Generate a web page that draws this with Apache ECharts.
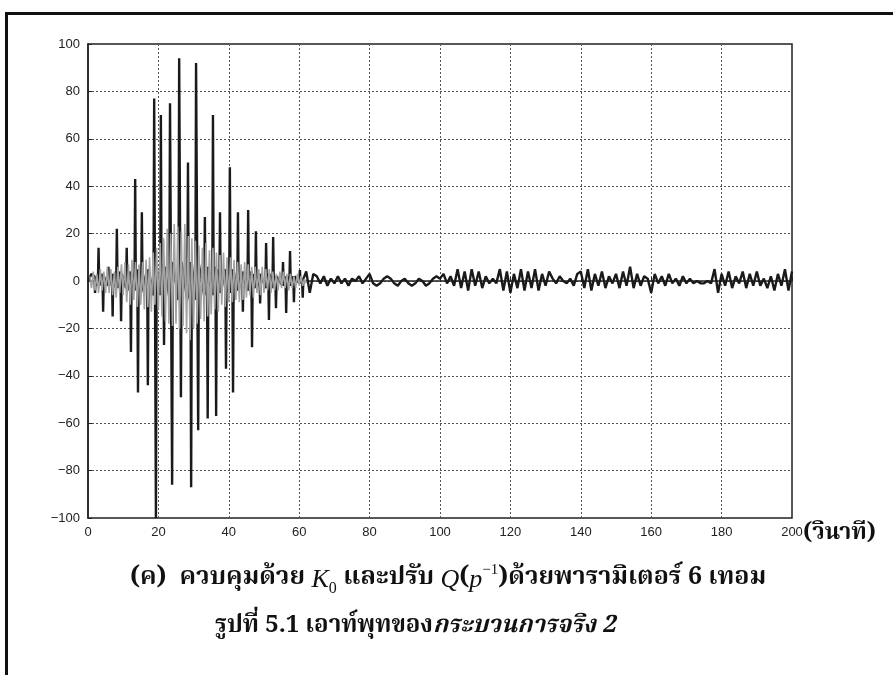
<!DOCTYPE html>
<html>
<head>
<meta charset="utf-8">
<title>Process output</title>
<script src="https://cdn.jsdelivr.net/npm/echarts@6/dist/echarts.min.js"></script>
<style>
  html, body { margin: 0; padding: 0; background: #fff; }
  #chart { width: 893px; height: 675px; }
</style>
</head>
<body>
<div id="chart"></div>
<script>
// output during the first 60 s: narrow spikes, [time, value]
var burstPoints = [
    [0, 0], [1, 3],
    [1.8, 2], [2, -5], [2.2, 2],
    [2.8, -2], [3, 14], [3.2, -2],
    [4.1, 3], [4.3, -13], [4.5, 2],
    [5.6, -2], [5.8, 6], [6, -2],
    [6.8, 3], [7, -15], [7.2, 3],
    [8, -3], [8.2, 22], [8.4, -3],
    [9.2, 4], [9.4, -17], [9.6, 3],
    [10.8, -3], [11, 14], [11.2, -4],
    [12, 4], [12.2, -30], [12.4, 4],
    [13.2, -4], [13.4, 43], [13.6, -4],
    [14, 5], [14.2, -47], [14.4, 5],
    [15.1, -5], [15.3, 29], [15.5, -4],
    [16.8, 5], [17, -44], [17.2, 5],
    [18.6, -6], [18.8, 77], [19.3, -100], [19.5, 6],
    [20.5, -6], [20.7, 70], [20.9, -6],
    [21.4, 7], [21.6, -27], [21.8, 6],
    [23.1, -7], [23.3, 75], [23.9, -86], [24.1, 8],
    [25.7, -8], [25.9, 94], [26.4, -49], [26.6, 8],
    [28.2, -8], [28.4, 50], [28.6, -7],
    [29.1, 8], [29.3, -87], [29.5, 7],
    [30.5, -8], [30.7, 92], [31.3, -63], [31.5, 7],
    [33, -6], [33.2, 27], [33.4, -6],
    [33.8, 6], [34, -58], [34.2, 6],
    [35.3, -6], [35.5, 70], [35.7, -6],
    [36.2, 6], [36.4, -57], [36.6, 5],
    [37.3, -5], [37.5, 29], [37.7, -5],
    [39, 5], [39.2, -37], [39.4, 5],
    [40.1, -5], [40.3, 48], [40.5, -5],
    [41, 5], [41.2, -47], [41.4, 4],
    [42.4, -4], [42.6, 29], [42.8, -4],
    [43.8, 4], [44, -13], [44.2, 4],
    [45.3, -4], [45.5, 30], [45.7, -4],
    [46.4, 4], [46.6, -28], [46.8, 3],
    [47.5, -3], [47.7, 21], [47.9, -3],
    [48.7, 3], [48.9, -9.5], [49.1, 3],
    [50.4, -3], [50.6, 16], [50.8, -3],
    [51.2, 3], [51.4, -16.5], [51.6, 3],
    [52.4, -3], [52.6, 18.6], [52.8, -2],
    [53.2, 2], [53.4, -11.5], [53.6, 2],
    [55.2, -2], [55.4, 8], [55.6, -2],
    [56.1, 2], [56.3, -13.5], [56.5, 2],
    [57.2, -2], [57.4, 12.6], [57.6, -2],
    [58.3, 2], [58.5, -9], [58.7, 2],
    [60, -1], [60.2, 4.6], [60.4, -1],
    [60.8, 1], [61, -7], [61.2, 1]
];

// settled part, one sample per second from t = 62 to 200
var tailStart = 62;
var tailValues = [4, -5, 3,
    2, -1, 2, -2, 1, -1, 2, -1, 1, -2, 1, 0, 2, -1, 1,
    3,
    -1, -2, -1, 1, 2, 1, -1, -2, 0, 1, -1, -2, -1, 1, 0, -2, -1, 1, 2, 1,
    3, -1, 2, -2,
    5, -3, 4, -4, 5, -2, 4, -3, 2, -1,
    1, -1,
    5, -4, 4, -5, 3, -3, 5, -4, 4, -3, 5, -4, 3, -2, 4,
    1, -1, 2, 0, -1, 1, -2, 3,
    4, -3, 5, -4, 3, -2, 4, -3, 2, -1, 3, -3, 4, -2,
    6,
    -3, 3, -2, 2, 1,
    -5,
    3, -1, 2, -2, 3, -1, 1, -2, 2, -1, 1,
    -1, 0, -1, -1, 0, -1,
    5, -5,
    3, -2, 4, -3, 2, -1, 4, -3, 3, -2, 4, -2, 1, -3, 2, -4, 3, -2, 5, -4,
    4];

// grey trace, every 0.5 s from t = 0.5
var greyStart = 0.5;
var greyStep = 0.5;
var greyValues = [2, -3, 4, -4, 3, -5, 5, -4, 4, -5,
    6, -5, 5, -6, 4, -7, 6, -5, 7, -6,
    8, -9, 7, -10, 9, -8, 8, -11, 7, -10,
    8, -12, 9, -11, 10, -13, 12, -10, 14, -12,
    16, -15, 18, -17, 22, -18, 20, -19, 24, -18,
    23, -20, 21, -19, 24, -22, 19, -25, 18, -20,
    17, -18, 15, -16, 14, -17, 16, -15, 13, -14,
    14, -12, 12, -13, 11, -10, 12, -11, 10, -9,
    10, -9, 9, -8, 8, -9, 7, -8, 8, -7,
    7, -6, 6, -7, 6, -5, 5, -6, 6, -5,
    5, -4, 5, -5, 4, -4, 3, -4, 4, -3,
    4, -3, 3, -4, 3, -3, 2, -3, 3, -2,
    2, -2, 1, -1];

var outputData = burstPoints.slice();
for (var j = 0; j < tailValues.length; j++) {
    outputData.push([tailStart + j, tailValues[j]]);
}
var greyData = [];
for (var k = 0; k < greyValues.length; k++) {
    greyData.push([greyStart + k * greyStep, greyValues[k]]);
}

var myChart = echarts.init(document.getElementById('chart'));

var labelFont = 'Liberation Sans, Arial, sans-serif';
var thaiFont = 'Noto Serif Thai, Noto Sans Thai, Loma, Garuda, Noto Sans, sans-serif';

function minusLabel(v) {
    return v < 0 ? '\u2212' + Math.abs(v) : String(v);
}

var option = {
    backgroundColor: '#ffffff',
    animation: false,
    grid: {
        left: 88,
        right: 101,
        top: 44,
        bottom: 157,
        show: true,
        borderColor: '#222',
        borderWidth: 1.5
    },
    xAxis: {
        type: 'value',
        min: 0,
        max: 200,
        interval: 20,
        axisLine: { lineStyle: { color: '#222', width: 1.5 } },
        axisTick: { inside: true, length: 4, lineStyle: { color: '#222' } },
        axisLabel: {
            margin: 8,
            fontFamily: labelFont,
            fontSize: 13,
            color: '#222'
        },
        splitLine: { show: true, lineStyle: { color: '#555', type: [2, 2], width: 1 } }
    },
    yAxis: {
        type: 'value',
        min: -100,
        max: 100,
        interval: 20,
        axisLine: { onZero: false, lineStyle: { color: '#222', width: 1.5 } },
        axisTick: { inside: true, length: 4, lineStyle: { color: '#222' } },
        axisLabel: {
            margin: 8,
            fontFamily: labelFont,
            fontSize: 13,
            color: '#222',
            formatter: minusLabel
        },
        splitLine: { show: true, lineStyle: { color: '#555', type: [2, 2], width: 1 } }
    },
    series: [
        {
            name: 'output',
            type: 'line',
            data: outputData,
            showSymbol: false,
            lineStyle: { color: '#1a1a1a', width: 2.4 },
            z: 2
        },
        {
            // drawn over the spikes, as in the scan
            name: 'grey',
            type: 'line',
            data: greyData,
            showSymbol: false,
            lineStyle: { color: '#a3a3a3', width: 1.6 },
            z: 3
        }
    ],
    graphic: [
        // scan frame
        { type: 'rect', shape: { x: 5, y: 12, width: 900, height: 3 }, style: { fill: '#111' } },
        { type: 'rect', shape: { x: 5, y: 12, width: 3, height: 680 }, style: { fill: '#111' } },
        {
            type: 'text',
            left: 803,
            top: 524,
            style: {
                text: '(วินาที)',
                fontFamily: thaiFont,
                fontWeight: 'bold',
                fontSize: 23,
                fill: '#111'
            }
        },
        {
            type: 'text',
            left: 130,
            top: 563,
            style: {
                text: '{n|(ค)  ควบคุมด้วย }{i|K}{sub|0}{n| และปรับ }{i|Q}{n|(}{i|p}{sup|−1}{n|)ด้วยพารามิเตอร์ 6 เทอม}',
                rich: {
                    n: { fontFamily: thaiFont, fontWeight: 'bold', fontSize: 25, fill: '#111', lineHeight: 34 },
                    i: { fontFamily: 'Liberation Serif, serif', fontStyle: 'italic', fontSize: 26, fill: '#111', lineHeight: 34 },
                    sub: { fontFamily: 'Liberation Serif, serif', fontSize: 16, fill: '#111', lineHeight: 34, verticalAlign: 'bottom' },
                    sup: { fontFamily: 'Liberation Serif, serif', fontSize: 15, fill: '#111', lineHeight: 34, verticalAlign: 'top' }
                }
            }
        },
        {
            type: 'text',
            left: 215,
            top: 616,
            style: {
                text: '{n|รูปที่ 5.1 เอาท์พุทของ}{i|กระบวนการจริง 2}',
                rich: {
                    n: { fontFamily: thaiFont, fontWeight: 'bold', fontSize: 24, fill: '#111', lineHeight: 34 },
                    i: { fontFamily: thaiFont, fontWeight: 'bold', fontStyle: 'italic', fontSize: 24, fill: '#111', lineHeight: 34 }
                }
            }
        }
    ]
};

myChart.setOption(option);
</script>
</body>
</html>
